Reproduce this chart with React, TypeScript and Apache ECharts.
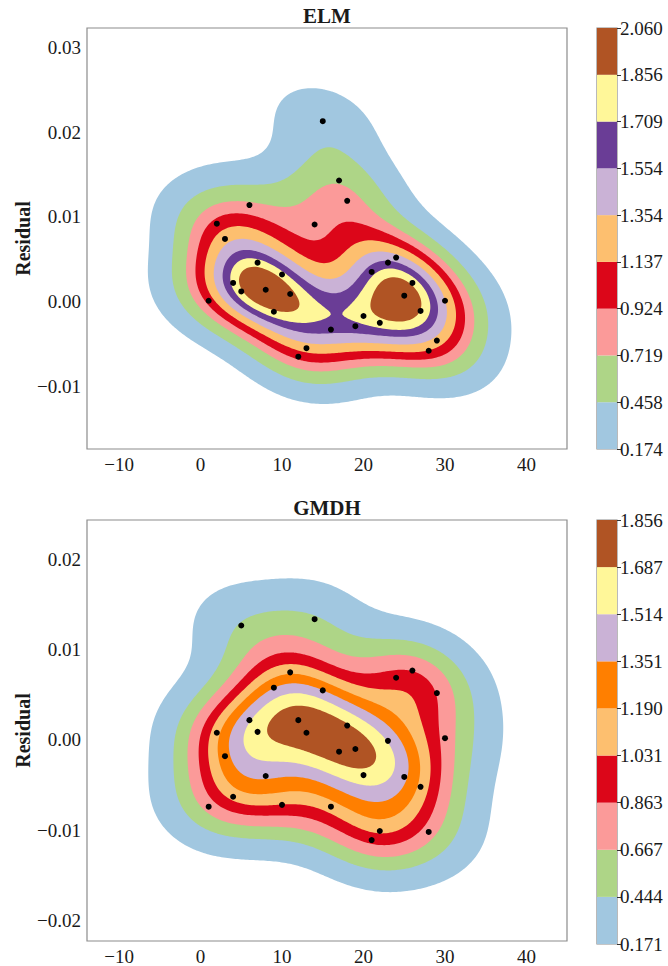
import React, { useEffect, useRef } from 'react';
import * as echarts from 'echarts';

// Sample number on the x axis, residuals of each model on the y axis
const sampleIndex = [
  1, 2, 3, 4, 5, 6, 7, 8, 9, 10, 11, 12, 13, 14, 15,
  16, 17, 18, 19, 20, 21, 22, 23, 24, 25, 26, 27, 28, 29, 30,
];
const elmResidual = [
  0.0001, 0.0092, 0.0074, 0.0022, 0.0012, 0.0114, 0.0046, 0.0014, -0.0012, 0.0032,
  0.0009, -0.0065, -0.0055, 0.0091, 0.0213, -0.0033, 0.0143, 0.0119, -0.0029, -0.0017,
  0.0035, -0.0025, 0.0046, 0.0052, 0.0007, 0.0022, -0.0011, -0.0058, -0.0046, 0.0001,
];
const gmdhResidual = [
  -0.0074, 0.0008, -0.0018, -0.0063, 0.0127, 0.0022, 0.0009, -0.004, 0.0058, -0.0072,
  0.0075, 0.0022, 0.0008, 0.0134, 0.0055, -0.0074, -0.0013, 0.0016, -0.001, -0.0039,
  -0.0111, -0.0101, -0.0001, 0.0069, -0.0041, 0.0077, -0.0052, -0.0102, 0.0052, 0.0002,
];

// Density contour levels (colour bar ticks)
const elmLevels = [0.174, 0.458, 0.719, 0.924, 1.137, 1.354, 1.554, 1.709, 1.856, 2.06];
const gmdhLevels = [0.171, 0.444, 0.667, 0.863, 1.031, 1.19, 1.351, 1.514, 1.687, 1.856];

const elmBandColors = [
  '#a1c7e0', '#aed587', '#fb9a99', '#dc0619', '#fdbf6f',
  '#cab2d6', '#6a3d96', '#fff799', '#b05424',
];
const gmdhBandColors = [
  '#a1c7e0', '#aed587', '#fb9a99', '#dc0619', '#fdbf6f',
  '#ff7f00', '#cab2d6', '#fff799', '#b05424',
];

const xTicks = [-10, 0, 10, 20, 30, 40];
const elmYTicks = [-0.01, 0, 0.01, 0.02, 0.03];
const gmdhYTicks = [-0.02, -0.01, 0, 0.01, 0.02];

const X_RANGE: [number, number] = [-13.93, 44.97];
const ELM_Y_RANGE: [number, number] = [-0.0174, 0.0323];
const GMDH_Y_RANGE: [number, number] = [-0.0223, 0.0244];

const FONT = '"Liberation Serif", "Times New Roman", serif';
const FRAME = '#8c8c8c';
const INK = '#1a1a1a';

type Pt = [number, number];

// Bivariate Gaussian KDE, Scott's rule bandwidth on the full covariance
function gaussianKde(xs: number[], ys: number[]) {
  const n = xs.length;
  const mx = xs.reduce((a, b) => a + b, 0) / n;
  const my = ys.reduce((a, b) => a + b, 0) / n;
  let sxx = 0, syy = 0, sxy = 0;
  for (let k = 0; k < n; k++) {
    const dx = xs[k] - mx, dy = ys[k] - my;
    sxx += dx * dx; syy += dy * dy; sxy += dx * dy;
  }
  const f2 = Math.pow(n, -2 / 6);
  const a = (sxx / (n - 1)) * f2;
  const d = (syy / (n - 1)) * f2;
  const b = (sxy / (n - 1)) * f2;
  const det = a * d - b * b;
  const ia = d / det, id = a / det, ib = -b / det;
  const norm = 1 / (2 * Math.PI * Math.sqrt(det) * n);
  return (x: number, y: number) => {
    let s = 0;
    for (let k = 0; k < n; k++) {
      const dx = x - xs[k], dy = y - ys[k];
      s += Math.exp(-0.5 * (ia * dx * dx + 2 * ib * dx * dy + id * dy * dy));
    }
    return s * norm;
  };
}

function densityGrid(
  f: (x: number, y: number) => number,
  xr: [number, number], yr: [number, number], nx: number, ny: number,
) {
  const gx: number[] = [], gy: number[] = [];
  for (let i = 0; i < nx; i++) gx.push(xr[0] + ((xr[1] - xr[0]) * i) / (nx - 1));
  for (let j = 0; j < ny; j++) gy.push(yr[0] + ((yr[1] - yr[0]) * j) / (ny - 1));
  const v: number[][] = [];
  for (let j = 0; j < ny; j++) {
    const row: number[] = [];
    for (let i = 0; i < nx; i++) {
      const edge = i === 0 || j === 0 || i === nx - 1 || j === ny - 1;
      row.push(edge ? 0 : f(gx[i], gy[j]));
    }
    v.push(row);
  }
  return { gx, gy, v };
}

// Marching squares: closed iso-lines of the grid at one level
function isoRings(g: { gx: number[]; gy: number[]; v: number[][] }, L: number): Pt[][] {
  const { gx, gy, v } = g;
  const nx = gx.length, ny = gy.length;
  const pts = new Map<string, Pt>();
  const segs: [string, string][] = [];
  const hKey = (i: number, j: number) => {
    const k = 'h' + i + '_' + j;
    if (!pts.has(k)) {
      const v0 = v[j][i], v1 = v[j][i + 1];
      const t = (L - v0) / (v1 - v0);
      pts.set(k, [gx[i] + t * (gx[i + 1] - gx[i]), gy[j]]);
    }
    return k;
  };
  const vKey = (i: number, j: number) => {
    const k = 'v' + i + '_' + j;
    if (!pts.has(k)) {
      const v0 = v[j][i], v1 = v[j + 1][i];
      const t = (L - v0) / (v1 - v0);
      pts.set(k, [gx[i], gy[j] + t * (gy[j + 1] - gy[j])]);
    }
    return k;
  };
  for (let j = 0; j < ny - 1; j++) {
    for (let i = 0; i < nx - 1; i++) {
      const bl = v[j][i], br = v[j][i + 1], tr = v[j + 1][i + 1], tl = v[j + 1][i];
      const c = (tl >= L ? 8 : 0) | (tr >= L ? 4 : 0) | (br >= L ? 2 : 0) | (bl >= L ? 1 : 0);
      if (c === 0 || c === 15) continue;
      const B = () => hKey(i, j);
      const T = () => hKey(i, j + 1);
      const Lf = () => vKey(i, j);
      const R = () => vKey(i + 1, j);
      const centre = (bl + br + tr + tl) / 4 >= L;
      switch (c) {
        case 1: segs.push([Lf(), B()]); break;
        case 2: segs.push([B(), R()]); break;
        case 3: segs.push([Lf(), R()]); break;
        case 4: segs.push([R(), T()]); break;
        case 5:
          if (centre) { segs.push([Lf(), T()]); segs.push([B(), R()]); }
          else { segs.push([Lf(), B()]); segs.push([R(), T()]); }
          break;
        case 6: segs.push([B(), T()]); break;
        case 7: segs.push([Lf(), T()]); break;
        case 8: segs.push([Lf(), T()]); break;
        case 9: segs.push([B(), T()]); break;
        case 10:
          if (centre) { segs.push([Lf(), B()]); segs.push([T(), R()]); }
          else { segs.push([B(), R()]); segs.push([Lf(), T()]); }
          break;
        case 11: segs.push([T(), R()]); break;
        case 12: segs.push([Lf(), R()]); break;
        case 13: segs.push([B(), R()]); break;
        case 14: segs.push([Lf(), B()]); break;
      }
    }
  }
  const adj = new Map<string, number[]>();
  segs.forEach(([p, q], s) => {
    if (!adj.has(p)) adj.set(p, []);
    if (!adj.has(q)) adj.set(q, []);
    adj.get(p)!.push(s);
    adj.get(q)!.push(s);
  });
  const used = new Array(segs.length).fill(false);
  const rings: Pt[][] = [];
  for (let s = 0; s < segs.length; s++) {
    if (used[s]) continue;
    used[s] = true;
    const start = segs[s][0];
    let cur = segs[s][1];
    const ring: Pt[] = [pts.get(start)!];
    while (cur !== start) {
      ring.push(pts.get(cur)!);
      const next = (adj.get(cur) || []).find((t) => !used[t]);
      if (next === undefined) break;
      used[next] = true;
      const [p, q] = segs[next];
      cur = p === cur ? q : p;
    }
    if (ring.length > 2) rings.push(ring);
  }
  return rings;
}

function contourBands(
  xs: number[], ys: number[], levels: number[],
  xr: [number, number], yr: [number, number],
) {
  const f = gaussianKde(xs, ys);
  const g = densityGrid(f, xr, yr, 240, 220);
  const out: { band: number; ring: Pt[] }[] = [];
  for (let k = 0; k < levels.length - 1; k++) {
    isoRings(g, levels[k]).forEach((ring) => out.push({ band: k, ring }));
  }
  return out;
}

const signed = (v: number, d: number) => (v < 0 ? '\u2212' : '') + Math.abs(v).toFixed(d);

export default function App() {
  const ref = useRef<HTMLDivElement>(null);

  useEffect(() => {
    if (!ref.current) return;
    const chart = echarts.init(ref.current, undefined, { renderer: 'svg' });

    const panels = [
      { name: 'ELM', res: elmResidual, levels: elmLevels, colors: elmBandColors, yr: ELM_Y_RANGE, yTicks: elmYTicks, top: 28, height: 421 },
      { name: 'GMDH', res: gmdhResidual, levels: gmdhLevels, colors: gmdhBandColors, yr: GMDH_Y_RANGE, yTicks: gmdhYTicks, top: 520, height: 424 },
    ];

    const grid: any[] = [];
    const xAxis: any[] = [];
    const yAxis: any[] = [];
    const series: any[] = [];
    const graphic: any[] = [];

    panels.forEach((p, pi) => {
      const gi = pi * 2;
      const bands = contourBands(sampleIndex, p.res, p.levels, X_RANGE, p.yr);

      // main plot area
      grid.push({ left: 87, top: p.top, width: 480, height: p.height, show: true, borderColor: FRAME, borderWidth: 1.2, backgroundColor: 'transparent' });
      // colour bar
      grid.push({ left: 597, top: p.top, width: 20, height: p.height, show: true, borderColor: FRAME, borderWidth: 1.2, backgroundColor: 'transparent' });

      xAxis.push({
        type: 'value', gridIndex: gi, min: X_RANGE[0], max: X_RANGE[1],
        axisLine: { show: false }, axisTick: { show: false }, splitLine: { show: false },
        axisLabel: {
          customValues: xTicks, margin: 6, color: INK, fontFamily: FONT, fontSize: 19,
          formatter: (v: number) => signed(v, 0),
        },
      });
      yAxis.push({
        type: 'value', gridIndex: gi, min: p.yr[0], max: p.yr[1],
        name: 'Residual', nameLocation: 'middle', nameGap: 54, nameMoveOverlap: false,
        nameTextStyle: { fontFamily: FONT, fontSize: 20, fontWeight: 'bold', color: INK },
        axisLine: { show: false }, axisTick: { show: false }, splitLine: { show: false },
        axisLabel: {
          customValues: p.yTicks, margin: 6, color: INK, fontFamily: FONT, fontSize: 19,
          formatter: (v: number) => signed(v, 2),
        },
      });

      xAxis.push({
        type: 'category', gridIndex: gi + 1, data: ['c'], show: false,
        boundaryGap: true,
      });
      yAxis.push({
        type: 'value', gridIndex: gi + 1, min: 0, max: p.levels.length - 1, interval: 1,
        position: 'right',
        axisLine: { show: false }, splitLine: { show: false },
        axisTick: { show: true, length: 4, lineStyle: { color: '#333', width: 1 } },
        axisLabel: {
          margin: 3, color: INK, fontFamily: FONT, fontSize: 19,
          formatter: (v: number) => p.levels[Math.round(v)].toFixed(3),
        },
      });

      series.push({
        type: 'custom', xAxisIndex: gi, yAxisIndex: gi, clip: true, silent: true, z: 1,
        data: [[X_RANGE[0], p.yr[0]]],
        renderItem: (params: any, api: any) => {
          if (params.dataIndex !== 0) return null;
          return {
            type: 'group',
            children: bands.map((b) => ({
              type: 'polygon',
              shape: { points: b.ring.map((q) => api.coord(q)) },
              style: { fill: p.colors[b.band], stroke: 'none' },
              silent: true,
            })),
          };
        },
      });

      series.push({
        type: 'scatter', xAxisIndex: gi, yAxisIndex: gi, z: 3, silent: true,
        symbol: 'circle', symbolSize: 6,
        itemStyle: { color: '#000', opacity: 1 },
        data: sampleIndex.map((s, k) => [s, p.res[k]]),
      });

      p.colors.forEach((c) => {
        series.push({
          type: 'bar', xAxisIndex: gi + 1, yAxisIndex: gi + 1, stack: 'cbar' + pi,
          barWidth: '100%', barCategoryGap: '0%', silent: true,
          itemStyle: { color: c }, data: [1],
        });
      });

      graphic.push({
        type: 'text', x: 327, y: p.top - 12,
        style: {
          text: p.name, font: 'bold 21px ' + FONT, fill: INK,
          textAlign: 'center', textVerticalAlign: 'middle',
        },
      });
    });

    chart.setOption({
      animation: false,
      textStyle: { fontFamily: FONT },
      grid, xAxis, yAxis, series, graphic,
    });

    return () => chart.dispose();
  }, []);

  return (
    <div
      ref={ref}
      style={{ position: 'absolute', left: 0, top: 0, width: 668, height: 966, background: '#fff' }}
    />
  );
}
